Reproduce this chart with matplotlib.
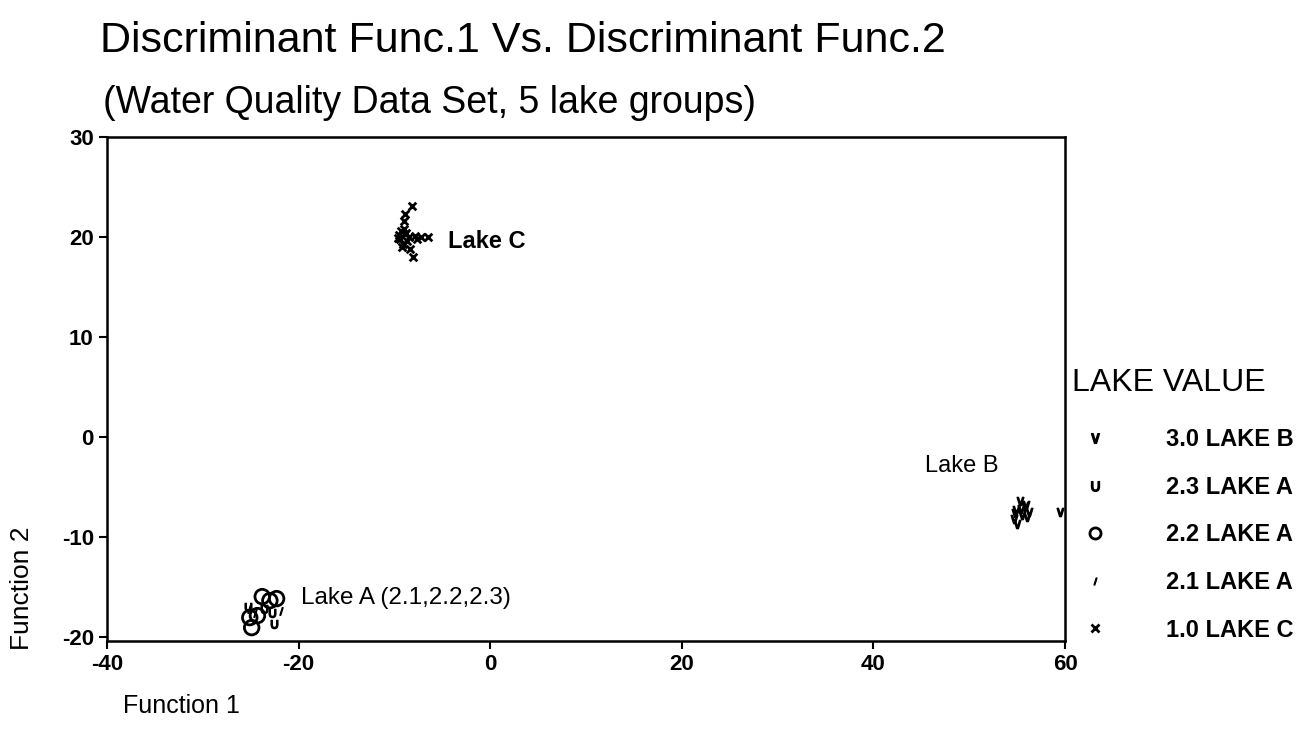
import matplotlib

matplotlib.use("Agg")
import matplotlib.pyplot as plt
from matplotlib.lines import Line2D

plt.rcParams["font.family"] = ["Liberation Sans", "DejaVu Sans"]
plt.rcParams["axes.unicode_minus"] = False

# discriminant scores
lake_c_x = [-8.2, -8.85, -9.0, -9.3, -9.4, -9.1, -8.5, -7.9, -7.2, -6.5, -8.4, -8.1,
            -9.5, -9.0, -8.7, -9.2, -8.8, -7.6, -9.6, -8.9]
lake_c_y = [23.1, 22.3, 21.6, 20.6, 19.8, 19.3, 20.0, 20.1, 20.0, 20.0, 18.8, 18.0,
            20.2, 20.8, 19.6, 19.0, 20.4, 19.8, 19.9, 20.3]

lake_a21_x = [-25.2, -24.6, -21.8]
lake_a21_y = [-17.2, -17.6, -17.4]

lake_a22_x = [-23.8, -23.0, -22.3, -24.9, -25.1, -24.3]
lake_a22_y = [-16.0, -16.4, -16.2, -19.1, -18.1, -17.9]

lake_a23_x = [-22.6, -22.8, -23.6, -25.3]
lake_a23_y = [-18.7, -17.6, -17.2, -17.0]

lake_b_x = [55.3, 55.8, 54.9, 55.5, 56.2, 54.7, 55.0, 55.9, 55.4, 54.8, 56.0, 59.5]
lake_b_y = [-6.4, -6.9, -7.3, -7.8, -7.5, -8.2, -8.7, -6.8, -7.2, -7.6, -8.0, -7.5]

legend_labels = ["3.0 LAKE B", "2.3 LAKE A", "2.2 LAKE A", "2.1 LAKE A", "1.0 LAKE C"]

fig = plt.figure(figsize=(13.1, 7.44), dpi=100)
ax = fig.add_axes([0.0817, 0.139, 0.7313, 0.677])

ax.scatter(lake_c_x, lake_c_y, marker="x", s=30, color="black", linewidths=2)
ax.scatter(lake_a21_x, lake_a21_y, marker="$/$", s=30, color="black")
ax.scatter(lake_a22_x, lake_a22_y, marker="o", s=110, facecolors="none",
           edgecolors="black", linewidths=2)
ax.scatter(lake_a23_x, lake_a23_y, marker="$\\cup$", s=35, color="black")
ax.scatter(lake_b_x, lake_b_y, marker="$\\vee$", s=35, color="black")

ax.text(-4.4, 19.5, "Lake C", fontsize=17, fontweight="bold", va="center")
ax.text(45.4, -2.9, "Lake B", fontsize=17, va="center")
ax.text(-19.8, -16.1, "Lake A (2.1,2.2,2.3)", fontsize=17.5, va="center")

ax.set_xlim(-40, 60)
ax.set_ylim(-20.4, 30)
ax.set_xticks([-40, -20, 0, 20, 40, 60])
ax.set_yticks([-20, -10, 0, 10, 20, 30])
ax.tick_params(direction="out", length=6, width=1.5, labelsize=16)
for lab in ax.get_xticklabels() + ax.get_yticklabels():
    lab.set_fontweight("bold")
for sp in ax.spines.values():
    sp.set_linewidth(1.8)

fig.text(0.076, 0.945, "Discriminant Func.1 Vs. Discriminant Func.2", fontsize=31, va="center")
fig.text(0.079, 0.862, "(Water Quality Data Set, 5 lake groups)", fontsize=27, va="center")
fig.text(0.017, 0.21, "Function 2", fontsize=19, rotation=90, va="center", ha="center")
fig.text(0.094, 0.051, "Function 1", fontsize=18, va="center")

# legend title placed on its own, entries below it
fig.text(0.818, 0.485, "LAKE VALUE", fontsize=23, va="center")
handles = [
    Line2D([], [], ls="none", marker="$\\vee$", color="black", markersize=7),
    Line2D([], [], ls="none", marker="$\\cup$", color="black", markersize=7),
    Line2D([], [], ls="none", marker="o", mfc="none", mec="black", mew=2, markersize=8),
    Line2D([], [], ls="none", marker="$/$", color="black", markersize=5),
    Line2D([], [], ls="none", marker="x", color="black", mew=2, markersize=6),
]
leg = fig.legend(handles, legend_labels, loc="center left", bbox_to_anchor=(0.8015, 0.281),
                 frameon=False, fontsize=17, labelspacing=1.04, handletextpad=2.0)
for t in leg.get_texts():
    t.set_fontweight("bold")

fig.savefig("out.png", dpi=100)
